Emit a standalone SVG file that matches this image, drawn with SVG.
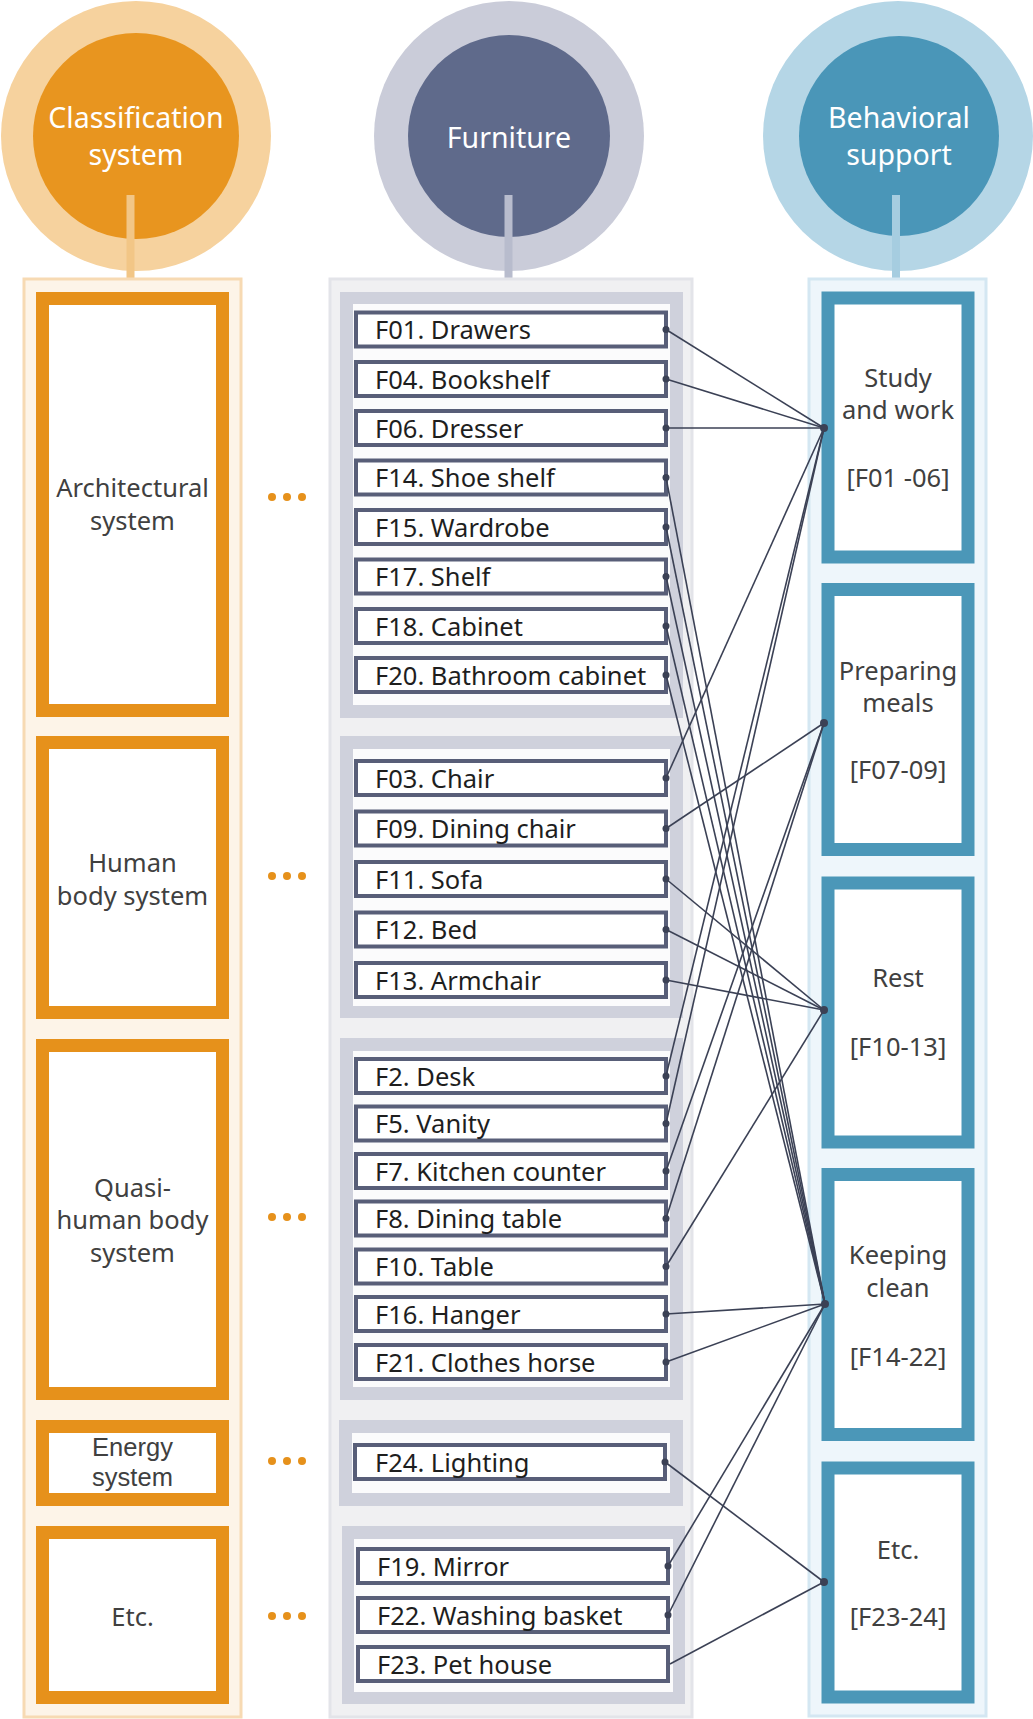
<svg xmlns="http://www.w3.org/2000/svg" width="1033" height="1719" viewBox="0 0 1033 1719">
<style>
text{font-family:"Noto Sans","Open Sans",sans-serif;}
.ttl{font-size:28.5px;fill:#ffffff;text-anchor:middle;}
.cls{font-size:25.5px;fill:#404040;text-anchor:middle;}
.clsc{font-family:"Liberation Sans",Arial,sans-serif;font-size:25.5px;fill:#404040;text-anchor:middle;}
.itm{font-size:25.5px;fill:#1e1e1e;}
.beh{font-size:25.5px;fill:#404040;text-anchor:middle;}
.obox{fill:#ffffff;stroke:#e6911b;stroke-width:13;}
.grp{fill:#cfd1dc;}
.grpin{fill:#fbfbfc;}
.ibox{fill:#ffffff;stroke:#585e78;stroke-width:4;}
.bbox{fill:#ffffff;stroke:#4b97b8;stroke-width:13;}
.dot3{fill:#e6911b;}
.cn{stroke:#3b4155;stroke-width:1.6;fill:none;}
.cd{fill:#3b4155;}
</style>

<!-- header circles -->
<g id="head-classification">
  <circle cx="136" cy="136" r="135" fill="#f6d29e"/>
  <circle cx="136" cy="136" r="103" fill="#e8951f"/>
  <rect x="126.5" y="195" width="8" height="86" fill="#f2c686"/>
  <text class="ttl" x="136" y="128">Classification</text>
  <text class="ttl" x="136" y="165">system</text>
</g>
<g id="head-furniture">
  <circle cx="509" cy="136" r="135" fill="#caccd9"/>
  <circle cx="509" cy="136" r="101" fill="#5f6a8b"/>
  <rect x="504.5" y="195" width="8" height="86" fill="#b8bccd"/>
  <text class="ttl" x="509" y="148">Furniture</text>
</g>
<g id="head-behavioral">
  <circle cx="898" cy="136" r="135" fill="#b5d6e6"/>
  <circle cx="899" cy="136" r="100" fill="#4a96b8"/>
  <rect x="892" y="195" width="8" height="86" fill="#a6cde0"/>
  <text class="ttl" x="899" y="128">Behavioral</text>
  <text class="ttl" x="899" y="165">support</text>
</g>

<!-- column backgrounds -->
<g id="col-classification">
  <rect x="24" y="279" width="217" height="1438" fill="#fdf4e8" stroke="#f7dab3" stroke-width="3"/>
</g>
<g id="col-furniture">
  <rect x="330" y="279" width="362" height="1438" fill="#f0f0f2" stroke="#e3e4e9" stroke-width="3"/>
</g>
<g id="col-behavioral">
  <rect x="809" y="279" width="177" height="1437" fill="#eef6fb" stroke="#d4e7f2" stroke-width="3"/>
</g>

<!-- classification boxes -->
<g id="cls-architectural">
  <rect class="obox" x="42.5" y="298.5" width="180" height="412"/>
  <text class="cls" x="132.5" y="497">Architectural</text>
  <text class="cls" x="132.5" y="530">system</text>
</g>
<g id="cls-human">
  <rect class="obox" x="42.5" y="742.5" width="180" height="270"/>
  <text class="cls" x="132.5" y="872">Human</text>
  <text class="cls" x="132.5" y="905">body system</text>
</g>
<g id="cls-quasi">
  <rect class="obox" x="42.5" y="1045.5" width="180" height="348"/>
  <text class="cls" x="132.5" y="1197">Quasi-</text>
  <text class="cls" x="132.5" y="1229">human body</text>
  <text class="cls" x="132.5" y="1262">system</text>
</g>
<g id="cls-energy">
  <rect class="obox" x="42.5" y="1426.5" width="180" height="73"/>
  <text class="clsc" x="132.5" y="1456">Energy</text>
  <text class="clsc" x="132.5" y="1485.5">system</text>
</g>
<g id="cls-etc">
  <rect class="obox" x="42.5" y="1532.5" width="180" height="165"/>
  <text class="cls" x="132.5" y="1626">Etc.</text>
</g>

<!-- ellipsis dots -->
<g id="ellipses">
  <circle class="dot3" cx="272" cy="497" r="4"/><circle class="dot3" cx="287" cy="497" r="4"/><circle class="dot3" cx="302" cy="497" r="4"/>
  <circle class="dot3" cx="272" cy="876" r="4"/><circle class="dot3" cx="287" cy="876" r="4"/><circle class="dot3" cx="302" cy="876" r="4"/>
  <circle class="dot3" cx="272" cy="1217" r="4"/><circle class="dot3" cx="287" cy="1217" r="4"/><circle class="dot3" cx="302" cy="1217" r="4"/>
  <circle class="dot3" cx="272" cy="1461" r="4"/><circle class="dot3" cx="287" cy="1461" r="4"/><circle class="dot3" cx="302" cy="1461" r="4"/>
  <circle class="dot3" cx="272" cy="1616" r="4"/><circle class="dot3" cx="287" cy="1616" r="4"/><circle class="dot3" cx="302" cy="1616" r="4"/>
</g>

<!-- furniture groups -->
<g id="grp-architectural">
  <rect class="grp" x="340" y="292" width="343" height="426"/>
  <rect class="grpin" x="353" y="304" width="317" height="401"/>
</g>
<g id="grp-human">
  <rect class="grp" x="340" y="736" width="343" height="282"/>
  <rect class="grpin" x="353" y="749" width="317" height="257"/>
</g>
<g id="grp-quasi">
  <rect class="grp" x="340" y="1038" width="343" height="362"/>
  <rect class="grpin" x="353" y="1051" width="317" height="336"/>
</g>
<g id="grp-energy">
  <rect class="grp" x="339" y="1420" width="344" height="86"/>
  <rect class="grpin" x="352" y="1433" width="318" height="60"/>
</g>
<g id="grp-etc">
  <rect class="grp" x="342" y="1526" width="343" height="178"/>
  <rect class="grpin" x="354" y="1539" width="319" height="153"/>
</g>

<!-- furniture items -->
<g id="f01"><rect class="ibox" x="356" y="312.5" width="310" height="34"/><text class="itm" x="375" y="339">F01. Drawers</text></g>
<g id="f04"><rect class="ibox" x="356" y="362" width="310" height="34"/><text class="itm" x="375" y="388.5">F04. Bookshelf</text></g>
<g id="f06"><rect class="ibox" x="356" y="411" width="310" height="34"/><text class="itm" x="375" y="437.5">F06. Dresser</text></g>
<g id="f14"><rect class="ibox" x="356" y="460.5" width="310" height="34"/><text class="itm" x="375" y="487">F14. Shoe shelf</text></g>
<g id="f15"><rect class="ibox" x="356" y="510" width="310" height="34"/><text class="itm" x="375" y="536.5">F15. Wardrobe</text></g>
<g id="f17"><rect class="ibox" x="356" y="559.5" width="310" height="34"/><text class="itm" x="375" y="586">F17. Shelf</text></g>
<g id="f18"><rect class="ibox" x="356" y="609" width="310" height="34"/><text class="itm" x="375" y="635.5">F18. Cabinet</text></g>
<g id="f20"><rect class="ibox" x="356" y="658" width="310" height="34"/><text class="itm" x="375" y="684.5">F20. Bathroom cabinet</text></g>

<g id="f03"><rect class="ibox" x="356" y="761" width="310" height="34"/><text class="itm" x="375" y="787.5">F03. Chair</text></g>
<g id="f09"><rect class="ibox" x="356" y="811.5" width="310" height="34"/><text class="itm" x="375" y="838">F09. Dining chair</text></g>
<g id="f11"><rect class="ibox" x="356" y="862" width="310" height="34"/><text class="itm" x="375" y="888.5">F11. Sofa</text></g>
<g id="f12"><rect class="ibox" x="356" y="912.5" width="310" height="34"/><text class="itm" x="375" y="939">F12. Bed</text></g>
<g id="f13"><rect class="ibox" x="356" y="963" width="310" height="34"/><text class="itm" x="375" y="989.5">F13. Armchair</text></g>

<g id="f2"><rect class="ibox" x="356" y="1059" width="310" height="34"/><text class="itm" x="375" y="1085.5">F2. Desk</text></g>
<g id="f5"><rect class="ibox" x="356" y="1106.5" width="310" height="34"/><text class="itm" x="375" y="1133">F5. Vanity</text></g>
<g id="f7"><rect class="ibox" x="356" y="1154" width="310" height="34"/><text class="itm" x="375" y="1180.5">F7. Kitchen counter</text></g>
<g id="f8"><rect class="ibox" x="356" y="1201.5" width="310" height="34"/><text class="itm" x="375" y="1228">F8. Dining table</text></g>
<g id="f10"><rect class="ibox" x="356" y="1249.5" width="310" height="34"/><text class="itm" x="375" y="1276">F10. Table</text></g>
<g id="f16"><rect class="ibox" x="356" y="1297" width="310" height="34"/><text class="itm" x="375" y="1323.5">F16. Hanger</text></g>
<g id="f21"><rect class="ibox" x="356" y="1345" width="310" height="34"/><text class="itm" x="375" y="1371.5">F21. Clothes horse</text></g>

<g id="f24"><rect class="ibox" x="355" y="1445" width="310" height="34"/><text class="itm" x="375" y="1471.5">F24. Lighting</text></g>

<g id="f19"><rect class="ibox" x="358" y="1549" width="310" height="34"/><text class="itm" x="377" y="1575.5">F19. Mirror</text></g>
<g id="f22"><rect class="ibox" x="358" y="1598" width="310" height="34"/><text class="itm" x="377" y="1624.5">F22. Washing basket</text></g>
<g id="f23"><rect class="ibox" x="358" y="1647" width="310" height="34"/><text class="itm" x="377" y="1673.5">F23. Pet house</text></g>

<!-- behavioral support boxes -->
<g id="beh-study">
  <rect class="bbox" x="828" y="298" width="140" height="259"/>
  <text class="beh" x="898" y="387">Study</text>
  <text class="beh" x="898" y="419">and work</text>
  <text class="beh" x="898" y="487">[F01 -06]</text>
</g>
<g id="beh-meals">
  <rect class="bbox" x="828" y="589.5" width="140" height="260"/>
  <text class="beh" x="898" y="680">Preparing</text>
  <text class="beh" x="898" y="712">meals</text>
  <text class="beh" x="898" y="779">[F07-09]</text>
</g>
<g id="beh-rest">
  <rect class="bbox" x="828" y="883" width="140" height="259"/>
  <text class="beh" x="898" y="987">Rest</text>
  <text class="beh" x="898" y="1056">[F10-13]</text>
</g>
<g id="beh-clean">
  <rect class="bbox" x="828" y="1174.5" width="140" height="260"/>
  <text class="beh" x="898" y="1264">Keeping</text>
  <text class="beh" x="898" y="1297">clean</text>
  <text class="beh" x="898" y="1366">[F14-22]</text>
</g>
<g id="beh-etc">
  <rect class="bbox" x="828" y="1468" width="140" height="229"/>
  <text class="beh" x="898" y="1559">Etc.</text>
  <text class="beh" x="898" y="1626">[F23-24]</text>
</g>

<!-- connectors -->
<g id="connectors">
  <!-- Study and work -->
  <line class="cn" x1="666" y1="329.5" x2="824" y2="428"/>
  <line class="cn" x1="666" y1="379" x2="824" y2="428"/>
  <line class="cn" x1="666" y1="428" x2="824" y2="428"/>
  <line class="cn" x1="666" y1="778" x2="824" y2="428"/>
  <line class="cn" x1="666" y1="1076" x2="824" y2="428"/>
  <line class="cn" x1="666" y1="1123.5" x2="824" y2="428"/>
  <!-- Preparing meals -->
  <line class="cn" x1="666" y1="828.5" x2="824" y2="723"/>
  <line class="cn" x1="666" y1="1171" x2="824" y2="723"/>
  <line class="cn" x1="666" y1="1218.5" x2="824" y2="723"/>
  <!-- Rest -->
  <line class="cn" x1="666" y1="879" x2="824" y2="1010"/>
  <line class="cn" x1="666" y1="929.5" x2="824" y2="1010"/>
  <line class="cn" x1="666" y1="980" x2="824" y2="1010"/>
  <line class="cn" x1="666" y1="1266.5" x2="824" y2="1010"/>
  <!-- Keeping clean -->
  <line class="cn" x1="666" y1="477.5" x2="825" y2="1304"/>
  <line class="cn" x1="666" y1="527" x2="825" y2="1304"/>
  <line class="cn" x1="666" y1="576.5" x2="825" y2="1304"/>
  <line class="cn" x1="666" y1="626" x2="825" y2="1304"/>
  <line class="cn" x1="666" y1="675" x2="825" y2="1304"/>
  <line class="cn" x1="666" y1="1314" x2="825" y2="1304"/>
  <line class="cn" x1="666" y1="1362" x2="825" y2="1304"/>
  <line class="cn" x1="668" y1="1566" x2="825" y2="1304"/>
  <line class="cn" x1="668" y1="1615" x2="825" y2="1304"/>
  <!-- Etc -->
  <line class="cn" x1="665" y1="1462" x2="824" y2="1582"/>
  <line class="cn" x1="670" y1="1664" x2="824" y2="1582"/>
  <!-- source dots -->
  <circle class="cd" cx="666" cy="329.5" r="3.5"/>
  <circle class="cd" cx="666" cy="379" r="3.5"/>
  <circle class="cd" cx="666" cy="428" r="3.5"/>
  <circle class="cd" cx="666" cy="477.5" r="3.5"/>
  <circle class="cd" cx="666" cy="527" r="3.5"/>
  <circle class="cd" cx="666" cy="576.5" r="3.5"/>
  <circle class="cd" cx="666" cy="626" r="3.5"/>
  <circle class="cd" cx="666" cy="675" r="3.5"/>
  <circle class="cd" cx="666" cy="778" r="3.5"/>
  <circle class="cd" cx="666" cy="828.5" r="3.5"/>
  <circle class="cd" cx="666" cy="879" r="3.5"/>
  <circle class="cd" cx="666" cy="929.5" r="3.5"/>
  <circle class="cd" cx="666" cy="980" r="3.5"/>
  <circle class="cd" cx="666" cy="1076" r="3.5"/>
  <circle class="cd" cx="666" cy="1123.5" r="3.5"/>
  <circle class="cd" cx="666" cy="1171" r="3.5"/>
  <circle class="cd" cx="666" cy="1218.5" r="3.5"/>
  <circle class="cd" cx="666" cy="1266.5" r="3.5"/>
  <circle class="cd" cx="666" cy="1314" r="3.5"/>
  <circle class="cd" cx="666" cy="1362" r="3.5"/>
  <circle class="cd" cx="665" cy="1462" r="3.5"/>
  <circle class="cd" cx="668" cy="1566" r="3.5"/>
  <circle class="cd" cx="668" cy="1615" r="3.5"/>
  <!-- target dots -->
  <circle class="cd" cx="824" cy="428" r="4"/>
  <circle class="cd" cx="824" cy="723" r="4"/>
  <circle class="cd" cx="824" cy="1010" r="4"/>
  <circle class="cd" cx="825" cy="1304" r="4"/>
  <circle class="cd" cx="824" cy="1582" r="4"/>
</g>
</svg>
